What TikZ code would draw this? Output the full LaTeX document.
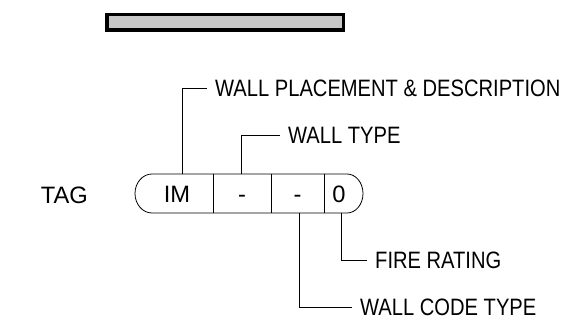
\documentclass[tikz,border=0pt]{standalone}
\usepackage{fontspec}
\setmainfont[FakeStretch=0.85]{Liberation Sans}
\newfontfamily\tagfont{Liberation Sans}

\begin{document}
\begin{tikzpicture}[x=1pt, y=-1pt,
  txt/.style={inner sep=0pt, text height=17pt, text depth=0pt,
    font=\fontsize{23.7}{26}\selectfont},
  cell/.style={txt, font=\tagfont\fontsize{23.7}{26}\selectfont},
  lbl/.style={txt, anchor=west, inner xsep=8pt},
  leader/.style={line width=0.8pt}]
  \useasboundingbox (0,0) rectangle (572,328);
  % Wall bar
  \draw[line width=3.5pt, fill={rgb,255:red,200;green,200;blue,200}]
    (106.75,14.75) rectangle (343.25,30.25);
  % Tag outline with rounded ends
  \draw[line width=0.8pt] (152,174) -- (347,174)
    arc[start angle=-90, end angle=90, x radius=16, y radius=19.5]
    -- (152,213)
    arc[start angle=90, end angle=270, x radius=17, y radius=19.5] -- cycle;
  % Cell dividers
  \foreach \x in {213,271,324} {
    \draw[line width=0.8pt] (\x,174) -- (\x,213);
  }
  % Tag text
  \node[cell, anchor=east] (tag) at (88,195.5) {TAG};
  \node[cell] (im) at (177,194) {IM};
  \node[cell] (wt) at (242,194) {-};
  \node[cell] (ct) at (297.5,194) {-};
  \node[cell] (fr) at (339,194) {0};
  % Leader feet on the tag
  \coordinate (imfoot) at (182,174);
  \coordinate (wtfoot) at (241,174);
  \coordinate (ctfoot) at (299,213);
  \coordinate (frfoot) at (341,213);
  % Labels
  \node[lbl] (place) at (207,88) {WALL PLACEMENT \& DESCRIPTION};
  \node[lbl] (type) at (280,135) {WALL TYPE};
  \node[lbl] (fire) at (367,260) {FIRE RATING};
  \node[lbl] (code) at (352,307) {WALL CODE TYPE};
  % Leaders
  \draw[leader] (imfoot) |- (place.west);
  \draw[leader] (wtfoot) |- (type.west);
  \draw[leader] (frfoot) |- (fire.west);
  \draw[leader] (ctfoot) |- (code.west);
\end{tikzpicture}
\end{document}
